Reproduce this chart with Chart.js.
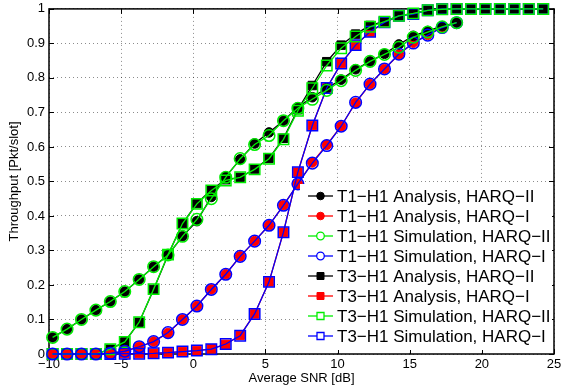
<!DOCTYPE html>
<html>
<head>
<meta charset="utf-8">
<script src="https://cdn.jsdelivr.net/npm/chart.js@4.4.0/dist/chart.umd.min.js"></script>
<style>
html, body { margin: 0; padding: 0; background: #fff; }
</style>
</head>
<body>
<canvas id="thrChart" width="563" height="387"></canvas>
<script>
// SNR points [dB]
const snrT1 = [-9.75, -8.75, -7.75, -6.75, -5.75, -4.75, -3.75, -2.75, -1.75, -0.75,
    0.25, 1.25, 2.25, 3.25, 4.25, 5.25, 6.25, 7.25, 8.25, 9.25,
    10.25, 11.25, 12.25, 13.25, 14.25, 15.25, 16.25, 17.25, 18.25];
const snrT3 = [-9.75, -8.75, -7.75, -6.75, -5.75, -4.75, -3.75, -2.75, -1.75, -0.75,
    0.25, 1.25, 2.25, 3.25, 4.25, 5.25, 6.25, 7.25, 8.25, 9.25,
    10.25, 11.25, 12.25, 13.25, 14.25, 15.25, 16.25, 17.25, 18.25, 19.25,
    20.25, 21.25, 22.25, 23.25, 24.25];

// throughput [Pkt/slot]
const t1AnaHarq2 = [0.048, 0.072, 0.100, 0.127, 0.152, 0.181, 0.216, 0.253, 0.287, 0.341,
    0.385, 0.455, 0.514, 0.564, 0.610, 0.642, 0.676, 0.715, 0.744, 0.770,
    0.795, 0.825, 0.848, 0.870, 0.897, 0.922, 0.936, 0.950, 0.960];
const t1AnaHarq1 = [0.000, 0.000, 0.000, 0.000, 0.002, 0.008, 0.021, 0.036, 0.061, 0.100,
    0.139, 0.187, 0.231, 0.283, 0.327, 0.373, 0.431, 0.493, 0.555, 0.606,
    0.660, 0.728, 0.782, 0.826, 0.868, 0.902, 0.925, 0.947, 0.960];
const t1SimHarq2 = [0.048, 0.072, 0.100, 0.127, 0.152, 0.181, 0.216, 0.253, 0.287, 0.341,
    0.390, 0.450, 0.512, 0.566, 0.607, 0.633, 0.676, 0.712, 0.738, 0.764,
    0.792, 0.822, 0.848, 0.868, 0.889, 0.918, 0.933, 0.948, 0.960];
const t1SimHarq1 = [0.000, 0.000, 0.000, 0.000, 0.002, 0.008, 0.021, 0.036, 0.062, 0.100,
    0.139, 0.187, 0.231, 0.283, 0.327, 0.373, 0.431, 0.493, 0.553, 0.604,
    0.660, 0.729, 0.782, 0.826, 0.869, 0.901, 0.924, 0.946, 0.960];
const t3AnaHarq2 = [0.000, 0.000, 0.000, 0.000, 0.014, 0.035, 0.092, 0.187, 0.287, 0.378,
    0.436, 0.476, 0.505, 0.512, 0.536, 0.567, 0.625, 0.708, 0.778, 0.847,
    0.895, 0.927, 0.952, 0.964, 0.980, 0.987, 0.996, 0.999, 1, 1,
    1, 1, 1, 1, 1];
const t3AnaHarq1 = [0.000, 0.000, 0.000, 0.000, 0.000, 0.001, 0.001, 0.002, 0.004, 0.007,
    0.010, 0.015, 0.028, 0.054, 0.116, 0.209, 0.353, 0.527, 0.662, 0.771,
    0.842, 0.895, 0.933, 0.960, 0.980, 0.987, 0.996, 0.999, 1, 1,
    1, 1, 1, 1, 1];
const t3SimHarq2 = [0.000, 0.000, 0.000, 0.000, 0.014, 0.035, 0.092, 0.188, 0.288, 0.378,
    0.435, 0.474, 0.503, 0.512, 0.535, 0.566, 0.622, 0.705, 0.770, 0.836,
    0.886, 0.920, 0.948, 0.963, 0.980, 0.987, 0.996, 0.999, 1, 1,
    1, 1, 1, 1, 1];
const t3SimHarq1 = [0.000, 0.000, 0.000, 0.000, 0.000, 0.001, 0.001, 0.002, 0.004, 0.007,
    0.010, 0.014, 0.029, 0.053, 0.116, 0.209, 0.353, 0.527, 0.662, 0.771,
    0.842, 0.895, 0.934, 0.961, 0.980, 0.985, 0.996, 1, 1, 1,
    1, 1, 1, 1, 1];

const xTicks = [-10, -5, 0, 5, 10, 15, 20, 25];
const yTicks = [0, 0.1, 0.2, 0.3, 0.4, 0.5, 0.6, 0.7, 0.8, 0.9, 1];

const FONT = '"Liberation Sans", Arial, Helvetica, sans-serif';

function makeSet(label, xs, ys, color, shape, filled) {
    const isSquare = shape === 'rect';
    return {
        label,
        data: xs.map((x, i) => ({ x, y: ys[i] })),
        borderColor: color,
        backgroundColor: filled ? color : 'rgba(0,0,0,0)',
        pointBackgroundColor: filled ? color : 'rgba(0,0,0,0)',
        pointBorderColor: color,
        pointStyle: shape,
        pointRadius: isSquare ? (filled ? 6 : 7.4) : (filled ? 4.8 : 5.8),
        pointBorderWidth: filled ? 1 : 1.5,
        borderWidth: 1.3,
        tension: 0,
        fill: false,
        clip: false,
        order: filled ? 2 : 1,
        filled
    };
}

const datasets = [
    makeSet('T1\u2212H1 Analysis, HARQ\u2212II', snrT1, t1AnaHarq2, '#000000', 'circle', true),
    makeSet('T1\u2212H1 Analysis, HARQ\u2212I', snrT1, t1AnaHarq1, '#ff0000', 'circle', true),
    makeSet('T1\u2212H1 Simulation, HARQ\u2212II', snrT1, t1SimHarq2, '#00ee00', 'circle', false),
    makeSet('T1\u2212H1 Simulation, HARQ\u2212I', snrT1, t1SimHarq1, '#0000ff', 'circle', false),
    makeSet('T3\u2212H1 Analysis, HARQ\u2212II', snrT3, t3AnaHarq2, '#000000', 'rect', true),
    makeSet('T3\u2212H1 Analysis, HARQ\u2212I', snrT3, t3AnaHarq1, '#ff0000', 'rect', true),
    makeSet('T3\u2212H1 Simulation, HARQ\u2212II', snrT3, t3SimHarq2, '#00ee00', 'rect', false),
    makeSet('T3\u2212H1 Simulation, HARQ\u2212I', snrT3, t3SimHarq1, '#0000ff', 'rect', false)
];

// box around the plot with inward ticks, matlab style
const axesBox = {
    id: 'axesBox',
    beforeDatasetsDraw(chart) {
        const { ctx, chartArea: a, scales } = chart;
        ctx.save();
        ctx.strokeStyle = '#000';
        ctx.lineWidth = 1;
        ctx.beginPath();
        xTicks.forEach(v => {
            const px = Math.round(scales.x.getPixelForValue(v)) + 0.5;
            ctx.moveTo(px, a.bottom); ctx.lineTo(px, a.bottom - 5);
            ctx.moveTo(px, a.top); ctx.lineTo(px, a.top + 5);
        });
        yTicks.forEach(v => {
            const py = Math.round(scales.y.getPixelForValue(v)) + 0.5;
            ctx.moveTo(a.left, py); ctx.lineTo(a.left + 5, py);
            ctx.moveTo(a.right, py); ctx.lineTo(a.right - 5, py);
        });
        ctx.stroke();
        ctx.lineWidth = 1.5;
        ctx.strokeRect(a.left, a.top, a.right - a.left, a.bottom - a.top);
        ctx.restore();
    }
};

const legendBox = {
    id: 'legendBox',
    afterDraw(chart) {
        const { ctx, chartArea: a } = chart;
        const left = a.right - 254;
        const top = a.bottom - 170;
        ctx.save();
        ctx.fillStyle = '#fff';
        ctx.fillRect(left, top, 252, 166);
        ctx.font = '17px ' + FONT;
        ctx.textBaseline = 'middle';
        chart.data.datasets.forEach((ds, i) => {
            const y = top + 12 + i * 20;
            const x0 = left + 8;
            const x1 = left + 33;
            const mx = (x0 + x1) / 2;
            ctx.strokeStyle = ds.borderColor;
            ctx.lineWidth = 1.3;
            ctx.beginPath();
            ctx.moveTo(x0, y); ctx.lineTo(x1, y);
            ctx.stroke();
            ctx.fillStyle = ds.borderColor;
            ctx.lineWidth = ds.filled ? 1 : 1.3;
            ctx.beginPath();
            if (ds.pointStyle === 'rect') {
                ctx.rect(mx - 3.5, y - 3.5, 7, 7);
            } else {
                ctx.arc(mx, y, 3.8, 0, Math.PI * 2);
            }
            if (ds.filled) {
                ctx.fill();
            } else {
                ctx.fillStyle = '#fff';
                ctx.fill();
            }
            ctx.stroke();
            ctx.fillStyle = '#000';
            ctx.fillText(ds.label, left + 37, y + 1);
        });
        ctx.restore();
    }
};

const tickFont = { family: FONT, size: 13 };

new Chart(document.getElementById('thrChart'), {
    type: 'line',
    data: { datasets },
    options: {
        responsive: false,
        animation: false,
        events: [],
        layout: { padding: { left: 0, top: 8, right: 9, bottom: 0 } },
        plugins: {
            legend: { display: false },
            tooltip: { enabled: false }
        },
        scales: {
            x: {
                type: 'linear',
                min: -10,
                max: 25,
                afterBuildTicks: s => { s.ticks = xTicks.map(v => ({ value: v })); },
                afterFit: s => {
                    s.height = 33;
                    s.paddingLeft = 0;
                    s.paddingRight = 0;
                },
                ticks: {
                    color: '#000',
                    font: tickFont,
                    padding: 3,
                    maxRotation: 0,
                    callback: v => v < 0 ? '\u2212' + Math.abs(v) : String(v)
                },
                grid: { color: 'rgba(0,0,0,0.45)', lineWidth: 1, drawTicks: false },
                border: { display: false, dash: [1, 3] },
                title: {
                    display: true,
                    text: 'Average SNR [dB]',
                    color: '#000',
                    font: tickFont,
                    padding: { top: 0, bottom: 1 }
                }
            },
            y: {
                min: 0,
                max: 1,
                afterBuildTicks: s => { s.ticks = yTicks.map(v => ({ value: v })); },
                afterFit: s => {
                    s.width = 49;
                    s.paddingTop = 0;
                    s.paddingBottom = 0;
                },
                ticks: {
                    color: '#000',
                    font: tickFont,
                    padding: 4,
                    callback: v => String(+v.toFixed(1))
                },
                grid: { color: 'rgba(0,0,0,0.45)', lineWidth: 1, drawTicks: false },
                border: { display: false, dash: [1, 3] },
                title: {
                    display: true,
                    text: 'Throughput [Pkt/slot]',
                    color: '#000',
                    font: tickFont,
                    padding: { top: 7, bottom: 0 }
                }
            }
        }
    },
    plugins: [axesBox, legendBox]
});
</script>
</body>
</html>
